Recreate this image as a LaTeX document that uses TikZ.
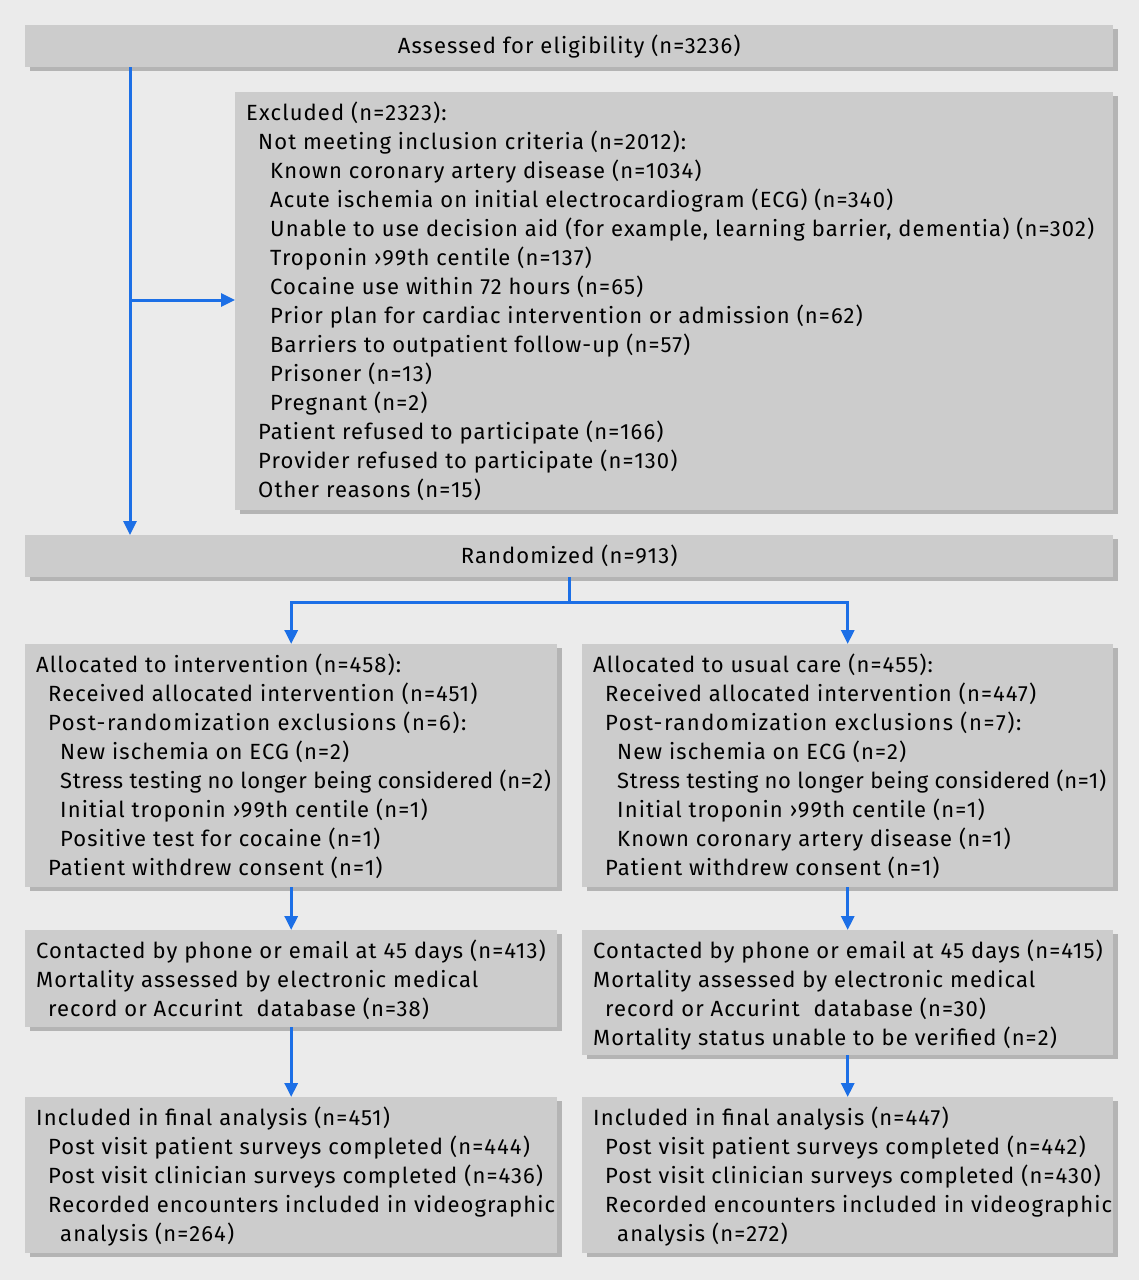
\documentclass[tikz,border=0pt]{standalone}
\usepackage{fontspec}
\setmainfont{Fira Sans}[LetterSpace=5.0]
\usetikzlibrary{arrows.meta,shadows,positioning}
\definecolor{bg}{HTML}{EBEBEB}
\definecolor{boxfill}{HTML}{CCCCCC}
\definecolor{shadowc}{HTML}{B4B4B4}
\definecolor{arrowc}{HTML}{1C6FE6}
\tikzset{
  panel/.style={fill=boxfill, draw=none, anchor=north west, inner sep=0pt,
    drop shadow={shadow xshift=5pt, shadow yshift=-4pt, fill=shadowc, opacity=1}},
  txt/.style={anchor=north west, inner sep=0pt, align=left, font=\fontsize{22}{29}\selectfont},
  ctxt/.style={font=\fontsize{22}{29}\selectfont, inner sep=0pt},
  arr/.style={draw=arrowc, line width=3pt, -{Triangle[length=14pt,width=13pt]}},
  lnk/.style={draw=arrowc, line width=3pt},
}
\newcommand{\ia}{\hspace*{12pt}}
\newcommand{\ib}{\hspace*{24pt}}
\newcommand{\tight}[1]{{\addfontfeatures{LetterSpace=2.6}#1}}
\newcommand{\loose}[1]{{\addfontfeatures{LetterSpace=7.0}#1}}
\begin{document}
\begin{tikzpicture}[x=1pt,y=1pt]
\fill[bg] (0,0) rectangle (1139,-1280);
\useasboundingbox (0,0) rectangle (1139,-1280);

% boxes
\node[panel, minimum width=1088pt, minimum height=42pt] (top) at (25,-25) {};
\node[ctxt] (toptxt) at (top.center) {Assessed for eligibility (n=3236)};

\node[panel, minimum width=878pt, minimum height=418pt] (excl) at (235,-92) {};
\node[txt] (excltxt) at ([xshift=11pt,yshift=-10pt]excl.north west) {Excluded (n=2323):\\
\ia Not meeting inclusion criteria (n=2012):\\
\ib Known coronary artery disease (n=1034)\\
\ib Acute ischemia on initial electrocardiogram (ECG) (n=340)\\
\ib Unable to use decision aid (for example, learning barrier, dementia) (n=302)\\
\ib Troponin ›99th centile (n=137)\\
\ib Cocaine use within 72 hours (n=65)\\
\ib Prior plan for cardiac intervention or admission (n=62)\\
\ib Barriers to outpatient follow-up (n=57)\\
\ib Prisoner (n=13)\\
\ib Pregnant (n=2)\\
\ia Patient refused to participate (n=166)\\
\ia Provider refused to participate (n=130)\\
\ia Other reasons (n=15)};

\node[panel, minimum width=1088pt, minimum height=42pt] (rand) at (25,-535) {};
\node[ctxt] (randtxt) at (rand.center) {Randomized (n=913)};

\node[panel, minimum width=532pt, minimum height=243pt] (allocL) at (25,-644) {};
\node[txt] (allocLtxt) at ([xshift=11pt,yshift=-10pt]allocL.north west) {Allocated to intervention (n=458):\\
\ia Received allocated intervention (n=451)\\
\ia \loose{Post-randomization exclusions (n=6):}\\
\ib New ischemia on ECG (n=2)\\
\ib \tight{Stress testing no longer being considered (n=2)}\\
\ib Initial troponin ›99th centile (n=1)\\
\ib Positive test for cocaine (n=1)\\
\ia Patient withdrew consent (n=1)};

\node[panel, minimum width=531pt, minimum height=243pt] (allocR) at (582,-644) {};
\node[txt] (allocRtxt) at ([xshift=11pt,yshift=-10pt]allocR.north west) {Allocated to usual care (n=455):\\
\ia Received allocated intervention (n=447)\\
\ia \loose{Post-randomization exclusions (n=7):}\\
\ib New ischemia on ECG (n=2)\\
\ib \tight{Stress testing no longer being considered (n=1)}\\
\ib Initial troponin ›99th centile (n=1)\\
\ib Known coronary artery disease (n=1)\\
\ia Patient withdrew consent (n=1)};

\node[panel, minimum width=532pt, minimum height=97pt] (contL) at (25,-930) {};
\node[txt] (contLtxt) at ([xshift=11pt,yshift=-10pt]contL.north west) {Contacted by phone or email at 45 days (n=413)\\
Mortality assessed by electronic medical\\
\ia record or Accurint\ \ database (n=38)};

\node[panel, minimum width=531pt, minimum height=125pt] (contR) at (582,-930) {};
\node[txt] (contRtxt) at ([xshift=11pt,yshift=-10pt]contR.north west) {Contacted by phone or email at 45 days (n=415)\\
Mortality assessed by electronic medical\\
\ia record or Accurint\ \ database (n=30)\\
Mortality status unable to be verified (n=2)};

\node[panel, minimum width=532pt, minimum height=156pt] (inclL) at (25,-1097) {};
\node[txt] (inclLtxt) at ([xshift=11pt,yshift=-10pt]inclL.north west) {Included in final analysis (n=451)\\
\ia Post visit patient surveys completed (n=444)\\
\ia Post visit clinician surveys completed (n=436)\\
\ia Recorded encounters included in videographic\\
\ib analysis (n=264)};

\node[panel, minimum width=531pt, minimum height=156pt] (inclR) at (582,-1097) {};
\node[txt] (inclRtxt) at ([xshift=11pt,yshift=-10pt]inclR.north west) {Included in final analysis (n=447)\\
\ia Post visit patient surveys completed (n=442)\\
\ia Post visit clinician surveys completed (n=430)\\
\ia Recorded encounters included in videographic\\
\ib analysis (n=272)};

% connectors
\coordinate (branch) at (130,-300);
\draw[arr] (top.south -| branch) -- (rand.north -| branch);
\draw[arr] (branch) -- (excl.west |- branch);
\coordinate (split) at ([yshift=-25pt]rand.south);
\draw[lnk] (rand.south) -- (split);
\draw[arr] (split) -| (allocL.north);
\draw[arr] (split) -| (allocR.north);
\draw[arr] (allocL.south) -- (contL.north);
\draw[arr] (allocR.south) -- (contR.north);
\draw[arr] (contL.south) -- (inclL.north);
\draw[arr] (contR.south) -- (inclR.north);
\end{tikzpicture}
\end{document}
